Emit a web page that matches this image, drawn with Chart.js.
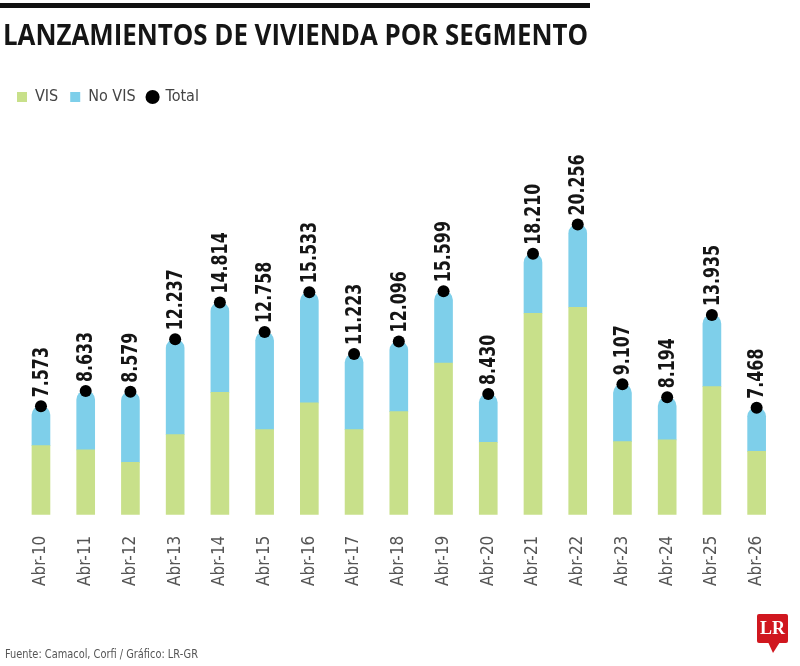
<!DOCTYPE html>
<html>
<head>
<meta charset="utf-8">
<script src="https://cdn.jsdelivr.net/npm/chart.js@4"></script>
<style>
  html, body { margin: 0; padding: 0; background: #fff; }
  #wrap { width: 800px; height: 666px; }
</style>
</head>
<body>
<div id="wrap"><canvas id="chart" width="800" height="666"></canvas></div>
<script>
const years = ["Abr-10", "Abr-11", "Abr-12", "Abr-13", "Abr-14", "Abr-15", "Abr-16", "Abr-17", "Abr-18",
    "Abr-19", "Abr-20", "Abr-21", "Abr-22", "Abr-23", "Abr-24", "Abr-25", "Abr-26"];
const total = [7573, 8633, 8579, 12237, 14814, 12758, 15533, 11223, 12096,
    15599, 8430, 18210, 20256, 9107, 8194, 13935, 7468];
const vis = [4820, 4520, 3650, 5590, 8540, 5940, 7800, 5940, 7190,
    10590, 5050, 14060, 14480, 5100, 5220, 8940, 4420];
const noVis = total.map((t, i) => t - vis[i]);

const titleText = 'LANZAMIENTOS DE VIVIENDA POR SEGMENTO';
const sourceText = 'Fuente: Camacol, Corfi / Gráfico: LR-GR';

const narrow = '"Liberation Sans Narrow", "DejaVu Sans Condensed", sans-serif';

// draw text squeezed to a given width (the original uses a condensed face)
function squeezed(ctx, text, x, y, width) {
    const w = ctx.measureText(text).width;
    ctx.save();
    ctx.translate(x, y);
    ctx.scale(Math.min(1, width / w), 1);
    ctx.fillText(text, 0, 0);
    ctx.restore();
}

// black rule, title, footer and LR badge
const decor = {
    id: 'decor',
    beforeDraw(chart) {
        const ctx = chart.ctx;
        ctx.save();
        ctx.fillStyle = '#111';
        ctx.fillRect(0, 3, 590, 5);
        ctx.fillStyle = '#151515';
        ctx.font = 'bold 28px "Open Sans", sans-serif';
        ctx.textBaseline = 'alphabetic';
        squeezed(ctx, titleText, 3, 45, 585);
        ctx.restore();
    },
    afterDraw(chart) {
        const ctx = chart.ctx;
        ctx.save();
        ctx.fillStyle = '#555';
        ctx.font = '13px ' + narrow;
        ctx.textBaseline = 'middle';
        squeezed(ctx, sourceText, 5, 655, 193);
        ctx.restore();

        ctx.save();
        ctx.fillStyle = '#d0171f';
        ctx.beginPath();
        ctx.roundRect(757, 614, 31, 29, 2);
        ctx.fill();
        ctx.beginPath();
        ctx.moveTo(768, 642);
        ctx.lineTo(780, 642);
        ctx.lineTo(773, 653);
        ctx.closePath();
        ctx.fill();
        ctx.fillStyle = '#fff';
        ctx.font = 'bold 18px "Liberation Serif", serif';
        ctx.textAlign = 'center';
        ctx.textBaseline = 'middle';
        ctx.fillText('LR', 772.5, 629.5);
        ctx.restore();
    }
};

// vertical labels over the total dots
const totalLabels = {
    id: 'totalLabels',
    afterDatasetsDraw(chart) {
        const ctx = chart.ctx;
        const meta = chart.getDatasetMeta(2);
        ctx.save();
        ctx.fillStyle = '#151515';
        ctx.font = 'bold 22px ' + narrow;
        ctx.textAlign = 'left';
        ctx.textBaseline = 'middle';
        meta.data.forEach((pt, i) => {
            ctx.save();
            ctx.translate(pt.x + 1, pt.y - 9);
            ctx.rotate(-Math.PI / 2);
            ctx.scale(0.8, 1);
            ctx.fillText(total[i].toLocaleString('de-DE'), 0, 0);
            ctx.restore();
        });
        ctx.restore();
    }
};

new Chart(document.getElementById('chart'), {
    data: {
        labels: years,
        datasets: [{
            type: 'bar',
            label: 'VIS',
            data: vis,
            backgroundColor: '#c8e08a',
            barThickness: 18,
            stack: 's',
            order: 1,
            pointStyle: 'rect'
        }, {
            type: 'bar',
            label: 'No VIS',
            data: noVis,
            backgroundColor: '#7ecfea',
            barThickness: 18,
            stack: 's',
            order: 1,
            borderRadius: { topLeft: 9, topRight: 9 },
            borderSkipped: 'bottom',
            pointStyle: 'rect'
        }, {
            type: 'line',
            label: 'Total',
            data: total,
            showLine: false,
            pointRadius: 6,
            pointBackgroundColor: '#000',
            pointBorderWidth: 0,
            backgroundColor: '#000',
            borderColor: '#000',
            order: 0,
            pointStyle: 'circle'
        }]
    },
    options: {
        responsive: false,
        animation: false,
        layout: { padding: { left: 5, right: 21, top: 77, bottom: 59 } },
        plugins: {
            title: { display: false },
            legend: {
                position: 'top',
                align: 'start',
                labels: {
                    usePointStyle: true,
                    boxWidth: 10,
                    boxHeight: 10,
                    color: '#444',
                    padding: 12,
                    font: { family: narrow, size: 16 },
                    sort: (a, b) => a.datasetIndex - b.datasetIndex
                }
            },
            tooltip: { enabled: false }
        },
        scales: {
            x: {
                stacked: true,
                grid: { display: false, drawTicks: false },
                border: { display: false },
                ticks: {
                    minRotation: 90,
                    maxRotation: 90,
                    padding: 21,
                    color: '#555',
                    font: { family: narrow, size: 17 }
                }
            },
            y: {
                stacked: true,
                min: 0,
                max: 27900,
                grid: { display: false, drawTicks: false },
                border: { display: false },
                ticks: { display: false },
                afterFit(scale) { scale.width = 13.6; }
            }
        }
    },
    plugins: [decor, totalLabels]
});
</script>
</body>
</html>
